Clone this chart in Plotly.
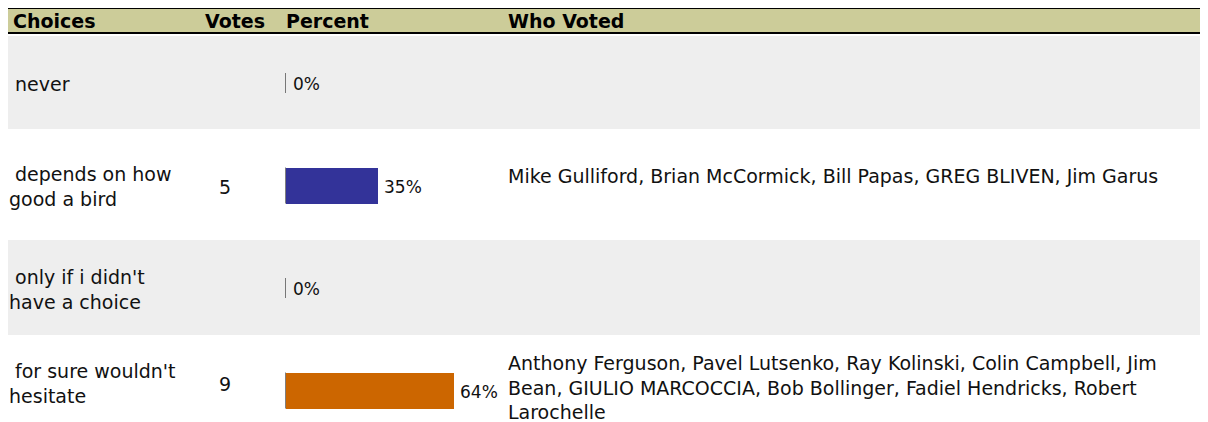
import plotly.graph_objects as go

# ---------------- data ----------------
headers = ["Choices", "Votes", "Percent", "Who Voted"]
choices = [
    "never",
    "depends on how good a bird",
    "only if i didn't have a choice",
    "for sure wouldn't hesitate",
]
choice_labels = [
    "\u00a0never",
    "\u00a0depends on how<br>good a bird",
    "\u00a0only if i didn't<br>have a choice",
    "\u00a0for sure wouldn't<br>hesitate",
]
votes = [0, 5, 0, 9]
percent = [0, 35, 0, 64]
voters = [
    "",
    "Mike Gulliford, Brian McCormick, Bill Papas, GREG BLIVEN, Jim Garus",
    "",
    "Anthony Ferguson, Pavel Lutsenko, Ray Kolinski, Colin Campbell, Jim<br>"
    "Bean, GIULIO MARCOCCIA, Bob Bollinger, Fadiel Hendricks, Robert<br>"
    "Larochelle",
]

# ---------------- styles / layout constants (page pixels) ----------------
PAGE_W, PAGE_H = 1208, 422
OFF = 8                      # default page margin around the plot
W, H = PAGE_W - OFF, PAGE_H - OFF
FONT = "DejaVu Sans"
FS = 19
TXT = "#111111"
bar_colors = ["#333399", "#333399", "#333399", "#CC6600"]
PX_PER_PCT = 2.62
X0_PX = 285.5
ROW0_PX, ROW_STEP = 83.0, 102.5
BAR_PX = 36
choice_shift = [-1, -1, -1, 7]
voters_shift = [0, 10, 0, 3]


def xp(px):
    return (px - OFF) / W


def yp(py):
    return 1 - (py - OFF) / H


n = len(choices)
fig = go.Figure()
fig.add_trace(go.Bar(
    x=percent, y=choices, orientation="h",
    width=BAR_PX / ROW_STEP,
    marker=dict(color=bar_colors, line=dict(width=0)),
    hoverinfo="skip", showlegend=False,
))

shapes = []
# header band
shapes.append(dict(type="rect", xref="paper", yref="paper", x0=xp(7), x1=1,
                   y0=yp(34), y1=yp(7), fillcolor="#000000", line_width=0, layer="below"))
shapes.append(dict(type="rect", xref="paper", yref="paper", x0=xp(7), x1=1,
                   y0=yp(32), y1=yp(9), fillcolor="#CCCC99", line_width=0, layer="below"))
# alternating row bands
for top, bot in [(36, 129), (240, 335)]:
    shapes.append(dict(type="rect", xref="paper", yref="paper", x0=xp(7), x1=1,
                       y0=yp(bot), y1=yp(top), fillcolor="#EEEEEE", line_width=0, layer="below"))
# black left edge of each bar
for i in range(n):
    half = (BAR_PX / 2 if percent[i] > 0 else 10) / ROW_STEP
    shapes.append(dict(type="line", xref="x", yref="y", x0=0, x1=0,
                       y0=i - half, y1=i + half, line=dict(color="#000000", width=1)))

ann = []
hdr_x = [12, 204, 285, 507]
for h, x in zip(headers, hdr_x):
    ann.append(dict(text=h, xref="paper", yref="paper", x=xp(x), y=yp(20.5),
                    xanchor="left", yanchor="middle", showarrow=False, borderpad=0,
                    font=dict(family=FONT, size=19, color="#000000", weight="bold")))
for i in range(n):
    ann.append(dict(text=choice_labels[i], xref="paper", yref="y", x=xp(8), y=choices[i],
                    xanchor="left", yanchor="middle", align="left", showarrow=False,
                    borderpad=0, yshift=choice_shift[i],
                    font=dict(family=FONT, size=FS, color=TXT)))
    if votes[i] > 0:
        ann.append(dict(text=str(votes[i]), xref="paper", yref="y", x=xp(218), y=choices[i],
                        xanchor="left", yanchor="middle", showarrow=False, borderpad=0,
                        yshift=choice_shift[i],
                        font=dict(family=FONT, size=FS, color=TXT)))
    ann.append(dict(text=f"{percent[i]}%", xref="x", yref="y", x=percent[i], y=choices[i],
                    xanchor="left", yanchor="middle", showarrow=False, borderpad=0,
                    xshift=6, yshift=-1,
                    font=dict(family=FONT, size=17, color=TXT)))
    if voters[i]:
        ann.append(dict(text=voters[i], xref="paper", yref="y", x=xp(507), y=choices[i],
                        xanchor="left", yanchor="middle", align="left", showarrow=False,
                        borderpad=0, yshift=voters_shift[i],
                        font=dict(family=FONT, size=FS, color=TXT)))

top_idx = -(ROW0_PX - OFF) / ROW_STEP
bot_idx = (PAGE_H - ROW0_PX) / ROW_STEP
fig.update_layout(
    width=W, height=H, autosize=False,
    margin=dict(l=0, r=0, t=0, b=0),
    paper_bgcolor="#FFFFFF", plot_bgcolor="rgba(0,0,0,0)",
    xaxis=dict(domain=[xp(X0_PX), xp(X0_PX + 100 * PX_PER_PCT)], range=[0, 100],
               visible=False, fixedrange=True),
    yaxis=dict(domain=[0, 1], type="category", categoryorder="array",
               categoryarray=choices, range=[bot_idx, top_idx],
               visible=False, fixedrange=True),
    shapes=shapes, annotations=ann,
    bargap=0,
)
fig.write_html("out.html", config={"displayModeBar": False})
